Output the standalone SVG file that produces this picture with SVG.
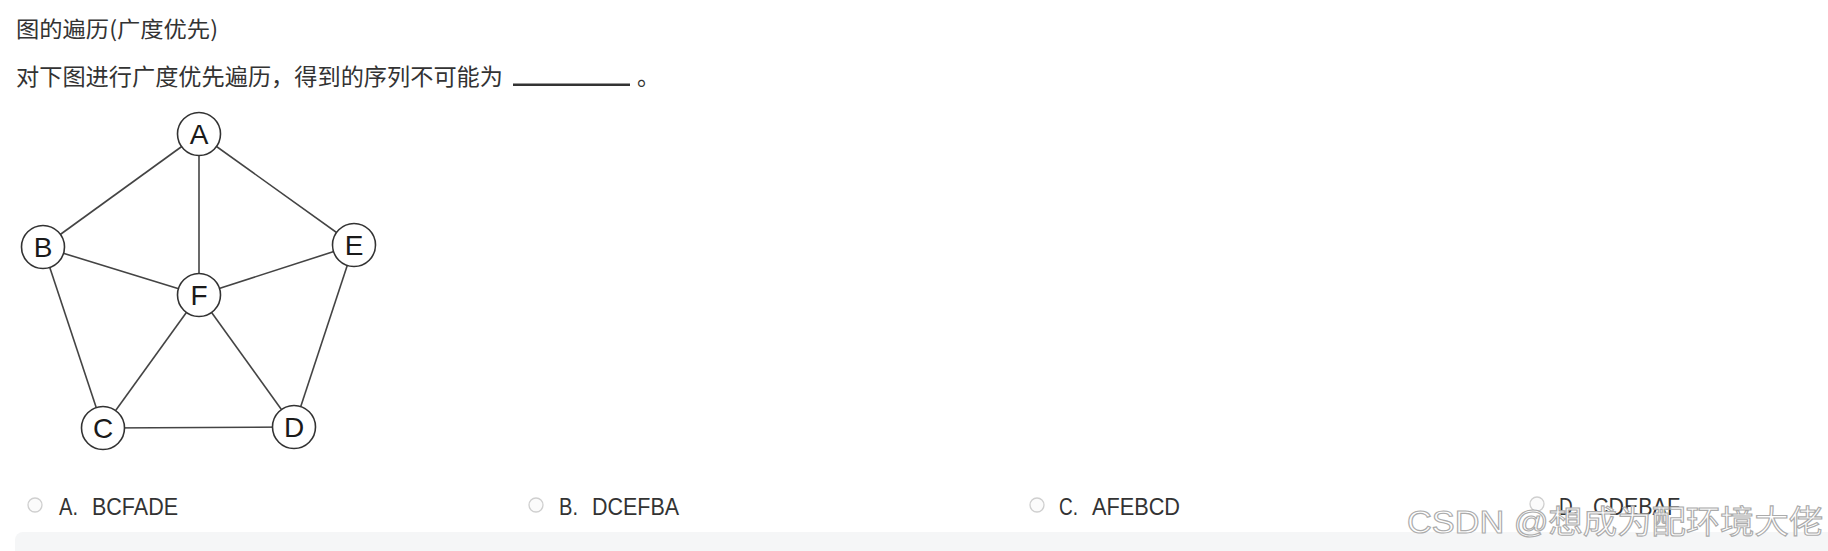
<svg xmlns="http://www.w3.org/2000/svg" width="1828" height="551" viewBox="0 0 1828 551">
<style>
.cjk{font-family:"Noto Sans CJK SC","Liberation Sans",sans-serif;fill:#333;}
.opt{font-family:"Liberation Sans",Arial,sans-serif;font-size:23px;fill:#333;}
.node circle{fill:#fff;stroke:#333;stroke-width:1.6;}
.node text{font-family:"Liberation Sans",Arial,sans-serif;font-size:28px;fill:#1a1a1a;text-anchor:middle;}
.edges line{stroke:#444;stroke-width:1.6;}
.radio{fill:#fbfbfb;stroke:#cfcfcf;stroke-width:1.3;}
.wm{font-family:"Liberation Sans","Noto Sans CJK SC",sans-serif;font-size:32px;fill:#fff;stroke:#ababab;stroke-width:1.1;}
</style>
<rect width="1828" height="551" fill="#fff"/>
<text class="cjk" x="16" y="37" font-size="22" textLength="202" lengthAdjust="spacingAndGlyphs">图的遍历(广度优先)</text>
<text class="cjk" x="16" y="85" font-size="23" textLength="487" lengthAdjust="spacingAndGlyphs">对下图进行广度优先遍历，得到的序列不可能为</text>
<rect x="513" y="83.5" width="117" height="2.5" fill="#333"/>
<text class="cjk" x="637" y="85" font-size="23">。</text>
<g id="connectors" class="edges">
<line x1="199" y1="134" x2="43" y2="247"/>
<line x1="199" y1="134" x2="354" y2="245"/>
<line x1="199" y1="134" x2="199" y2="295"/>
<line x1="43" y1="247" x2="199" y2="295"/>
<line x1="354" y1="245" x2="199" y2="295"/>
<line x1="43" y1="247" x2="103" y2="428"/>
<line x1="354" y1="245" x2="294" y2="427"/>
<line x1="199" y1="295" x2="103" y2="428"/>
<line x1="199" y1="295" x2="294" y2="427"/>
<line x1="103" y1="428" x2="294" y2="427"/>
</g>
<g id="node-A" class="node"><circle cx="199" cy="134" r="21.5"/><text x="199" y="144">A</text></g>
<g id="node-B" class="node"><circle cx="43" cy="247" r="21.5"/><text x="43" y="257">B</text></g>
<g id="node-E" class="node"><circle cx="354" cy="245" r="21.5"/><text x="354" y="255">E</text></g>
<g id="node-F" class="node"><circle cx="199" cy="295" r="21.5"/><text x="199" y="305">F</text></g>
<g id="node-C" class="node"><circle cx="103" cy="428" r="21.5"/><text x="103" y="438">C</text></g>
<g id="node-D" class="node"><circle cx="294" cy="427" r="21.5"/><text x="294" y="437">D</text></g>
<rect x="15" y="532" width="1840" height="40" rx="8" fill="#f5f6f7"/>
<g id="option-A"><circle class="radio" cx="35" cy="505" r="7"/><text class="opt" x="59" y="515" textLength="19" lengthAdjust="spacingAndGlyphs">A.</text><text class="opt" x="92" y="515" textLength="86" lengthAdjust="spacingAndGlyphs">BCFADE</text></g>
<g id="option-B"><circle class="radio" cx="536" cy="505" r="7"/><text class="opt" x="559" y="515" textLength="19" lengthAdjust="spacingAndGlyphs">B.</text><text class="opt" x="592" y="515" textLength="87" lengthAdjust="spacingAndGlyphs">DCEFBA</text></g>
<g id="option-C"><circle class="radio" cx="1037" cy="505" r="7"/><text class="opt" x="1059" y="515" textLength="19" lengthAdjust="spacingAndGlyphs">C.</text><text class="opt" x="1092" y="515" textLength="88" lengthAdjust="spacingAndGlyphs">AFEBCD</text></g>
<g id="option-D"><circle class="radio" cx="1537" cy="504" r="7"/><text class="opt" x="1559" y="515" textLength="19" lengthAdjust="spacingAndGlyphs">D.</text><text class="opt" x="1593" y="515" textLength="87" lengthAdjust="spacingAndGlyphs">CDEBAF</text></g>
<text class="wm" x="1407" y="533" textLength="416" lengthAdjust="spacingAndGlyphs">CSDN @想成为配环境大佬</text>
</svg>
